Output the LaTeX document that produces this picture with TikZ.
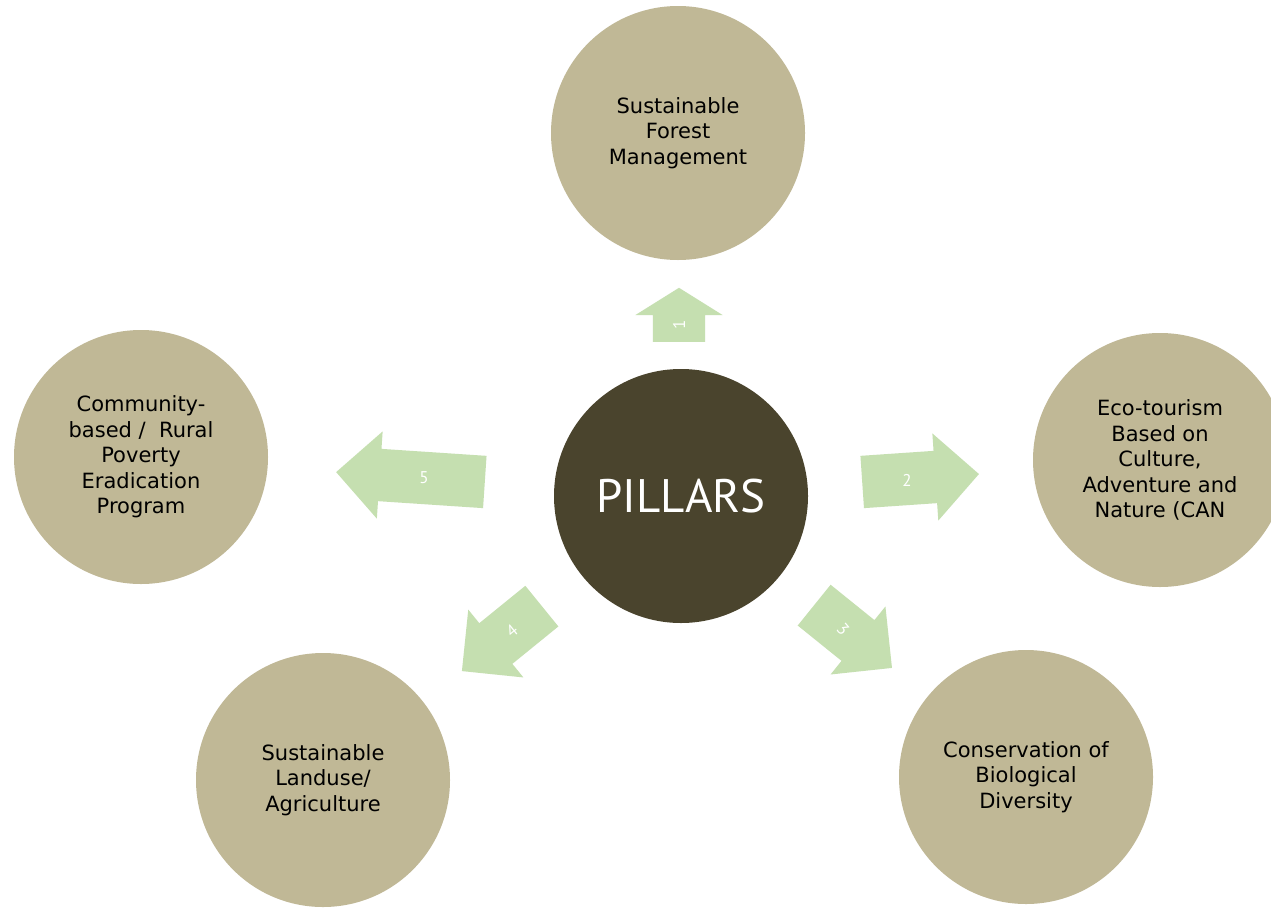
\documentclass[tikz,border=0pt]{standalone}
\usepackage{fontspec}
\setmainfont{DejaVu Sans}
\newfontfamily\pillarfont{PT Sans}
\usetikzlibrary{shapes.arrows}
\definecolor{beige}{RGB}{192,184,150}
\definecolor{darkolive}{RGB}{74,68,45}
\definecolor{lightgreen}{RGB}{197,223,176}
\begin{document}
\begin{tikzpicture}[x=1pt,y=-1pt,
  pillar/.style={circle, fill=beige, minimum size=254pt, inner sep=0pt, align=center,
    font=\fontsize{21}{25.5}\selectfont},
  hub/.style={circle, fill=darkolive, minimum size=254pt, inner sep=0pt, text=white,
    font=\pillarfont\fontsize{47}{50}\selectfont},
  blockarrow/.style={single arrow, fill=lightgreen, minimum width=87pt, anchor=tail,
    single arrow head extend=17.5pt, inner xsep=0pt, inner ysep=26pt, single arrow tip angle=90},
  num/.style={text=white, inner sep=0pt, font=\pillarfont\fontsize{17}{17}\selectfont}]
\useasboundingbox (0,0) rectangle (1271,910);
\fill[white] (0,0) rectangle (1271,910);
% circles
\node[hub] (c0) at (681,496) {PILLARS};
\node[pillar] (c1) at (678,133) {Sustainable\\Forest\\Management};
\node[pillar] (c2) at (1160,460) {Eco-tourism\\Based on\\Culture,\\Adventure and\\Nature (CAN};
\node[pillar] (c3) at (1026,777) {Conservation of\\Biological\\Diversity};
\node[pillar] (c4) at (323,780) {Sustainable\\Landuse/\\Agriculture};
\node[pillar] (c5) at (141,457) {Community-\\based /\ \ Rural\\Poverty\\Eradication\\Program};
% block arrows
\node[blockarrow, minimum height=54pt, single arrow tip angle=116, rotate=90] (a1) at (679,342) {};
\node[blockarrow, minimum height=117pt, rotate=3.9] (a2) at (862,482) {};
\node[blockarrow, minimum height=100pt, rotate=-38.9] (a3) at (814,605) {};
\node[blockarrow, minimum height=103pt, rotate=219.1] (a4) at (542,606) {};
\node[blockarrow, minimum height=149pt, rotate=176.2] (a5) at (485,482) {};
% numbers
\node[num, rotate=90] (n1) at (679,325) {1};
\node[num] (n2) at (907,480) {2};
\node[num, rotate=-50] (n3) at (843,629) {3};
\node[num, rotate=39] (n4) at (512,631) {4};
\node[num] (n5) at (424,478) {5};
\end{tikzpicture}
\end{document}
